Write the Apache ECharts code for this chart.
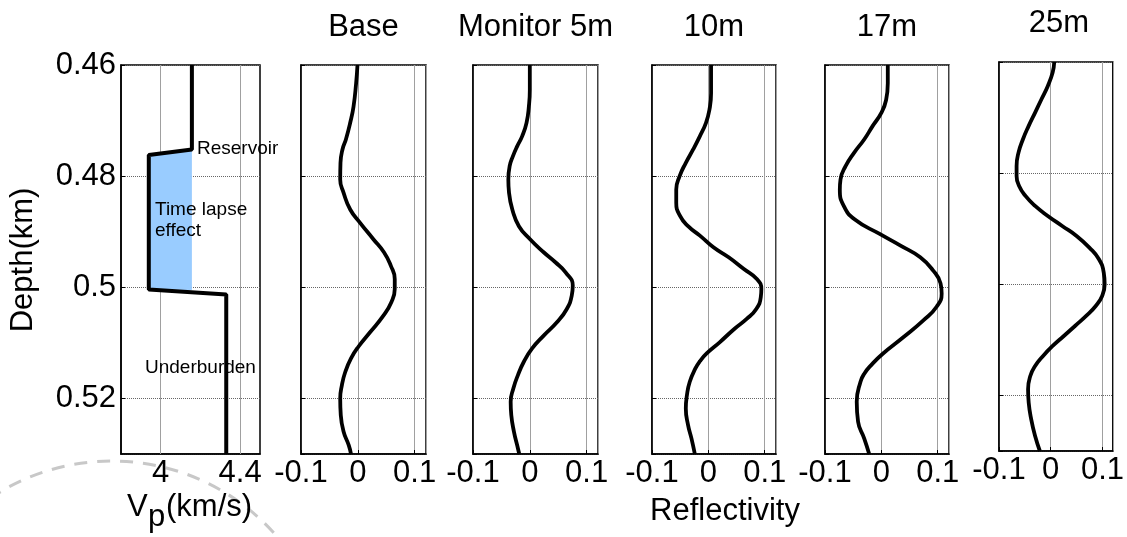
<!DOCTYPE html>
<html><head><meta charset="utf-8">
<script src="https://cdn.jsdelivr.net/npm/echarts@6/dist/echarts.min.js"></script>
<style>html,body{margin:0;padding:0;background:#fff}#c{width:1127px;height:537px}</style>
</head><body><div id="c"></div><script>
// ---------------- data ----------------
const panelTitles = ['', 'Base', 'Monitor 5m', '10m', '17m', '25m'];
const depthRange = [0.46, 0.53];
const depthInterval = 0.02;
const reflRange = [-0.1, 0.12];
const reflInterval = 0.1;
const vpRange = [3.8, 4.5];
const vpTickLabels = [4, 4.4];
const yAxisName = 'Depth(km)';
const vpAxisName = ['V', 'p', '(km/s)'];
const reflAxisName = 'Reflectivity';
const annotations = ['Reservoir', 'Time lapse', 'effect', 'Underburden'];

// Vp profile
const vpValues = [4.157, 4.157, 3.94, 3.94, 4.33, 4.33];
const vpDepth  = [0.46, 0.4752, 0.4762, 0.5004, 0.5013, 0.53];
// time-lapse fill polygon
const fillVp    = [3.94, 4.157, 4.157, 3.94];
const fillDepth = [0.4762, 0.4752, 0.5005, 0.5004];

// Reflectivity traces
const baseDepth = [0.46,0.4633,0.4675,0.4704,0.4734,0.4752,0.4776,0.4806,0.4830,0.4860,0.4884,0.4913,0.4937,0.4961,0.4985,0.5003,0.5027,0.5051,0.5081,0.5107,0.5128,0.5152,0.5176,0.52,0.523,0.526,0.5284,0.53];
const baseRefl  = [-0.0006,-0.003,-0.0076,-0.0134,-0.021,-0.027,-0.0305,-0.031,-0.025,-0.0134,0.004,0.027,0.046,0.058,0.065,0.065,0.059,0.045,0.0215,0.001,-0.012,-0.022,-0.028,-0.031,-0.030,-0.025,-0.016,-0.012];

const mon5Depth = [0.46,0.4645,0.4675,0.4704,0.4728,0.4746,0.4764,0.4782,0.4806,0.4830,0.4860,0.4890,0.4913,0.4937,0.4955,0.4973,0.4997,0.5015,0.5039,0.5063,0.5087,0.5110,0.5134,0.5158,0.5182,0.5206,0.5230,0.5260,0.5290,0.53];
const mon5Refl  = [0,0,-0.0017,-0.0058,-0.0134,-0.0221,-0.0297,-0.0355,-0.0378,-0.0366,-0.0308,-0.0192,0,0.0244,0.045,0.063,0.0756,0.0738,0.0651,0.0477,0.0244,0.0041,-0.0105,-0.0209,-0.029,-0.0337,-0.0326,-0.0279,-0.0209,-0.0186];

const m10Depth = [0.46,0.4651,0.4681,0.4704,0.4728,0.4752,0.4776,0.4800,0.4824,0.4848,0.4872,0.4890,0.4907,0.4928,0.4946,0.4967,0.4985,0.5003,0.5018,0.5039,0.5057,0.5075,0.5099,0.5119,0.5133,0.5146,0.5170,0.5194,0.5218,0.5248,0.5272,0.53];
const m10Refl  = [0.0048,0.0048,0.0018,-0.0042,-0.015,-0.027,-0.040,-0.051,-0.057,-0.057,-0.050,-0.036,-0.015,0.009,0.036,0.063,0.086,0.094,0.093,0.085,0.068,0.046,0.020,-0.003,-0.015,-0.023,-0.033,-0.038,-0.040,-0.036,-0.030,-0.024];

const m17Depth = [0.46,0.4633,0.4663,0.4687,0.4710,0.4734,0.4758,0.4782,0.4806,0.4824,0.4854,0.4878,0.4904,0.4925,0.4946,0.4970,0.4993,0.5011,0.5035,0.5059,0.5089,0.5120,0.5140,0.5155,0.5170,0.5206,0.5242,0.5272,0.53];
const m17Refl  = [0.0114,0.0114,0.0084,-0.0006,-0.0156,-0.0305,-0.0485,-0.0635,-0.0725,-0.0737,-0.0665,-0.0470,-0.003,0.034,0.069,0.092,0.105,0.107,0.098,0.075,0.040,0.002,-0.018,-0.030,-0.037,-0.0437,-0.0413,-0.0305,-0.0216];

const m25Depth = [0.46,0.4619,0.4643,0.4667,0.4691,0.4715,0.4739,0.4763,0.4787,0.4805,0.4823,0.4841,0.4859,0.4877,0.4895,0.4913,0.4934,0.4955,0.4979,0.5000,0.5021,0.5039,0.5057,0.5075,0.5093,0.5111,0.5129,0.5147,0.5165,0.5189,0.5213,0.5243,0.5273,0.53];
const m25Refl  = [0.0068,0.0037,-0.0056,-0.0179,-0.0302,-0.0426,-0.0537,-0.0623,-0.066,-0.066,-0.0611,-0.0488,-0.0302,-0.0056,0.0222,0.050,0.0747,0.0932,0.1025,0.1043,0.0994,0.087,0.0685,0.0469,0.0253,0.0037,-0.0148,-0.0302,-0.0395,-0.0438,-0.0426,-0.0377,-0.0302,-0.021];

const traces = [[baseRefl, baseDepth],[mon5Refl, mon5Depth],[m10Refl, m10Depth],[m17Refl, m17Depth],[m25Refl, m25Depth]];

// ---------------- layout ----------------
const FONT = '"Liberation Sans", Arial, Helvetica, sans-serif';
const BIG = 31;
const SMALL = 19;
const grids = [
  {left:121, top:65, width:139, height:389},
  {left:301, top:65, width:125, height:389},
  {left:473, top:65, width:125, height:389},
  {left:652, top:65, width:124, height:389},
  {left:825, top:65, width:124, height:389},
  {left:999, top:62, width:120, height:389}
];

const zip = (xs, ys) => xs.map((v, i) => [v, ys[i]]);
const near = (a, b) => Math.abs(a - b) < 1e-6;

const gridOpts = grids.map(g => Object.assign({show:true, borderColor:'#000', borderWidth:1.5, backgroundColor:'rgba(0,0,0,0)'}, g));

const axisLineStyle = {show:true, onZero:false, lineStyle:{color:'#000', width:1.5}};
const xAxes = grids.map((g, i) => {
  if (i === 0) {
    return {
      type:'value', gridIndex:0, min:vpRange[0], max:vpRange[1], interval:0.2,
      axisLine:axisLineStyle,
      axisTick:{show:true, inside:true, length:4, customValues:vpTickLabels, lineStyle:{color:'#000'}},
      splitLine:{show:false},
      axisLabel:{show:true, color:'#000', fontSize:BIG, fontFamily:FONT, margin:4,
        showMaxLabel:false,
        formatter: v => (vpTickLabels.some(t => near(t, v)) ? String(+v.toFixed(1)) : '')}
    };
  }
  return {
    type:'value', gridIndex:i, min:reflRange[0], max:reflRange[1], interval:reflInterval,
    axisLine:axisLineStyle,
    axisTick:{show:true, inside:true, length:4, lineStyle:{color:'#000'}},
    splitLine:{show:true, lineStyle:{color:'#a0a0a0', width:1}},
    axisLabel:{show:true, color:'#000', fontSize:BIG, fontFamily:FONT, margin:4, showMaxLabel:false, hideOverlap:false}
  };
});
const yAxes = grids.map((g, i) => ({
  type:'value', gridIndex:i, inverse:true, min:depthRange[0], max:depthRange[1], interval:depthInterval,
  axisLine:axisLineStyle,
  axisTick:{show:true, inside:true, length:4, lineStyle:{color:'#000'}},
  splitLine:{show:true, lineStyle:{color:'#666', width:1, type:[1,1]}},
  axisLabel:{show:i === 0, color:'#000', fontSize:BIG, fontFamily:FONT, margin:5, showMaxLabel:false}
}));

const series = [];
series.push({
  type:'custom', xAxisIndex:0, yAxisIndex:0, z:6, silent:true,
  data:[[fillVp[0], fillDepth[0]]],
  renderItem:(params, api) => ({
    type:'polygon',
    shape:{points: fillVp.map((v, k) => api.coord([v, fillDepth[k]]))},
    style:{fill:'#99ccff', stroke:'none'}
  })
});
series.push({
  type:'line', xAxisIndex:0, yAxisIndex:0, z:7, showSymbol:false, silent:true,
  data: zip(vpValues, vpDepth),
  lineStyle:{color:'#000', width:4},
  markLine:{silent:true, symbol:'none', z:2, label:{show:false},
    lineStyle:{color:'#a0a0a0', width:1, type:'solid'},
    data: vpTickLabels.map(t => ({xAxis:t}))}
});
traces.forEach((t, k) => {
  series.push({
    type:'line', xAxisIndex:k+1, yAxisIndex:k+1, z:7, showSymbol:false, silent:true,
    smooth:0.5, data: zip(t[0], t[1]),
    lineStyle:{color:'#000', width:3.8}
  });
});

const txt = (text, x, y, size, align, extra) => Object.assign({
  type:'text', x, y, silent:true,
  style:{text, fill:'#000', font:`${size}px ${FONT}`, textAlign:align || 'center', textVerticalAlign:'middle'}
}, extra || {});

const titleY = [0, 27, 27, 27, 27, 23];
const graphics = [
  {type:'circle', shape:{cx:112, cy:679, r:218}, z:-10, silent:true,
   style:{fill:'none', stroke:'#c8c8c8', lineWidth:3, lineDash:[13,10]}}
];
grids.forEach((g, i) => {
  if (panelTitles[i]) graphics.push(txt(panelTitles[i], g.left + g.width / 2, titleY[i], BIG, 'center'));
});
graphics.push(txt(yAxisName, 23, 260, BIG, 'center', {rotation:Math.PI / 2}));
graphics.push(txt(vpAxisName[0], 127, 507, BIG, 'left'));
graphics.push(txt(vpAxisName[1], 148, 517, BIG, 'left'));
graphics.push(txt(vpAxisName[2], 166, 507, BIG, 'left'));
graphics.push(txt(reflAxisName, 725, 511, BIG, 'center'));
graphics.push(txt(annotations[0], 197, 149, SMALL, 'left', {z:100}));
graphics.push(txt(annotations[1], 155, 210, SMALL, 'left', {z:100}));
graphics.push(txt(annotations[2], 155, 231, SMALL, 'left', {z:100}));
graphics.push(txt(annotations[3], 145, 368, SMALL, 'left', {z:100}));

const chart = echarts.init(document.getElementById('c'), null, {renderer:'canvas'});
chart.setOption({
  backgroundColor:'#fff',
  animation:false,
  grid: gridOpts,
  xAxis: xAxes,
  yAxis: yAxes,
  series,
  graphic: graphics
});
</script></body></html>
